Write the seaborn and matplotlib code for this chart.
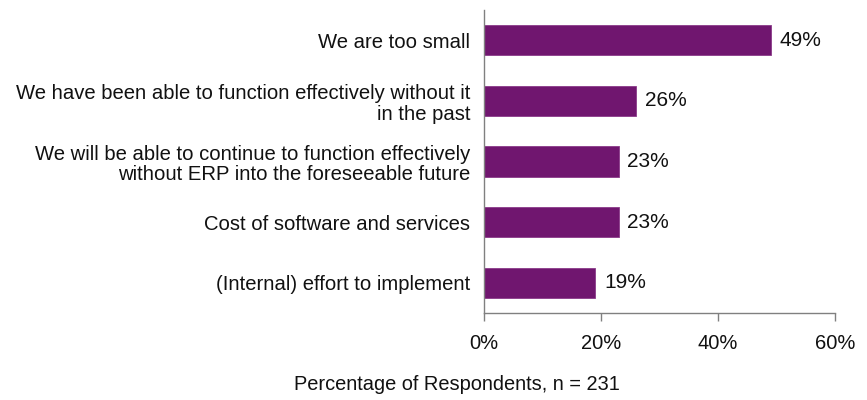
import matplotlib
matplotlib.use("Agg")
import matplotlib.pyplot as plt
import seaborn as sns
import pandas as pd
from matplotlib.ticker import FuncFormatter

categories = [
    "We are too small",
    "We have been able to function effectively without it\nin the past",
    "We will be able to continue to function effectively\nwithout ERP into the foreseeable future",
    "Cost of software and services",
    "(Internal) effort to implement",
]
values = [49, 26, 23, 23, 19]
xticks = [0, 20, 40, 60]
xlabel = "Percentage of Respondents, n = 231"

sns.set_theme(style="white")
plt.rcParams['font.family'] = ['Liberation Sans', 'DejaVu Sans']

FS = 14.6
df = pd.DataFrame({"reason": categories, "pct": values})

fig = plt.figure(figsize=(8.67, 4.0), dpi=100)
ax = fig.add_axes([484/867, 1-313/400, (835-484)/867, (313-10)/400])
sns.barplot(data=df, y="reason", x="pct", color="#70166F", width=0.5,
            saturation=1, edgecolor="#8a3a89", linewidth=0.6, ax=ax)

for p, v in zip(ax.patches, values):
    ax.text(p.get_width() + 1.5, p.get_y() + p.get_height()/2, f"{v}%",
            va="center", ha="left", fontsize=15, color="#111111")

ax.set_xlim(0, 60)
ax.set_ylim(4.5, -0.5)
ax.set_xticks(xticks)
ax.xaxis.set_major_formatter(FuncFormatter(lambda x, _: f"{int(x)}%"))
ax.set_xlabel("")
ax.set_ylabel("")
for s in ["top", "right"]:
    ax.spines[s].set_visible(False)
for s in ["left", "bottom"]:
    ax.spines[s].set_color("#808080")
    ax.spines[s].set_linewidth(1)
ax.tick_params(axis="x", which="major", direction="out", length=6, width=1,
               color="#808080", labelsize=14.5, labelcolor="#111111", pad=9, bottom=True)
ax.tick_params(axis="y", length=0, labelsize=FS, labelcolor="#111111", pad=10)
for lbl in ax.get_yticklabels():
    lbl.set_horizontalalignment("right")
    lbl.set_multialignment("right")
    lbl.set_linespacing(1.13)

fig.text(457/867, 1-385/400, xlabel, ha="center", va="center", fontsize=14.4, color="#111111")

fig.savefig("out.png", dpi=100)
